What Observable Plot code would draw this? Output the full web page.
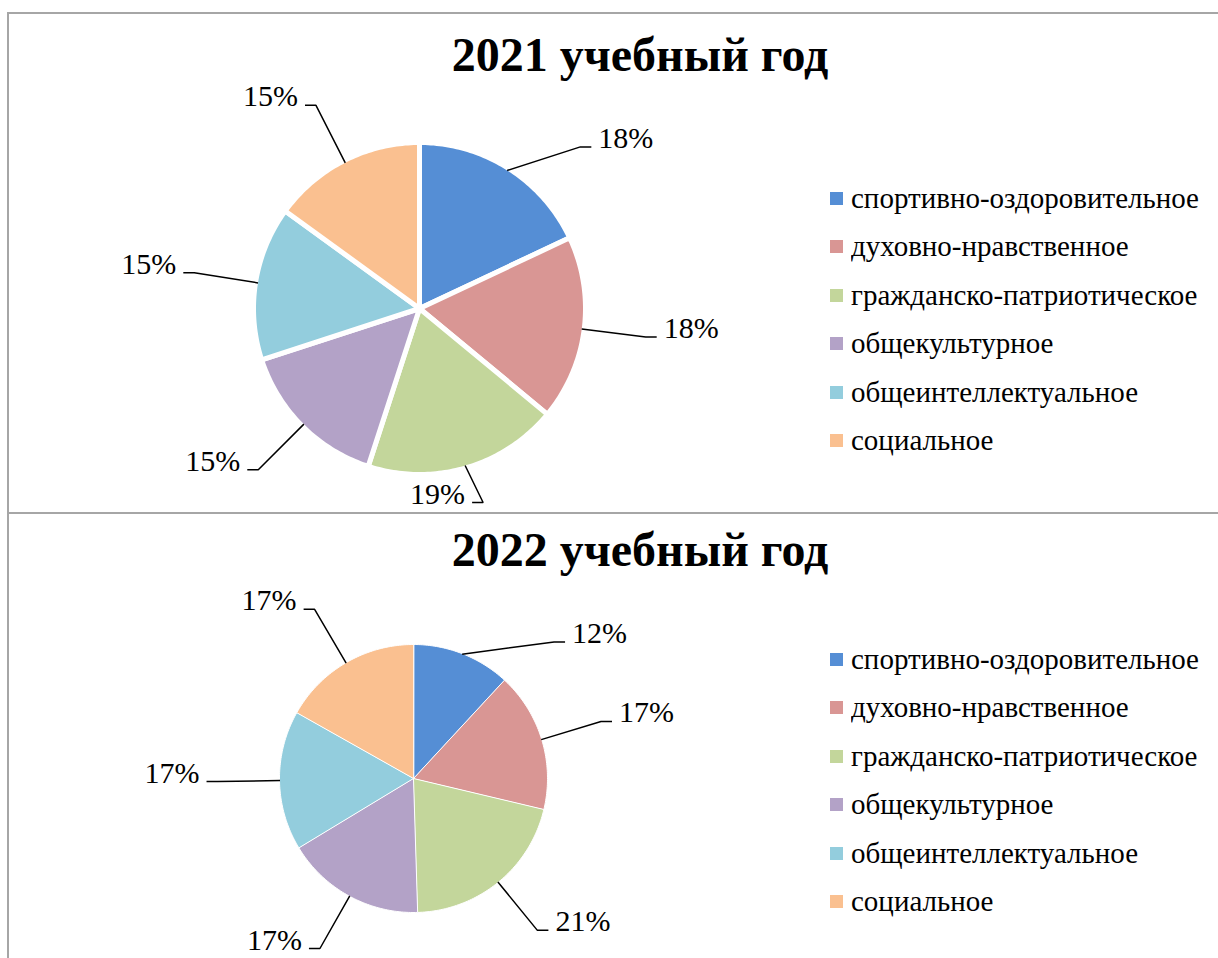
<!DOCTYPE html>
<html><head><meta charset="utf-8">
<script src="https://cdn.jsdelivr.net/npm/d3@7"></script>
<script src="https://cdn.jsdelivr.net/npm/@observablehq/plot@0.6"></script>
<style>
html,body{margin:0;padding:0;background:#fff;overflow:hidden;width:1218px;height:958px;}
#root{position:relative;width:1218px;height:958px;overflow:hidden;}
.chart{position:absolute;left:0;z-index:1;}
.frame{position:absolute;box-sizing:border-box;border:0 solid #a6a6a6;z-index:4;pointer-events:none;}
.title{position:absolute;left:0;width:1280px;text-align:center;font-family:"Times New Roman","Liberation Serif",serif;font-weight:bold;font-size:48px;line-height:48px;color:#000;z-index:3;}
.legendbox{position:absolute;left:830px;width:390px;z-index:3;font-family:"Times New Roman","Liberation Serif",serif;font-size:29px;color:#000;}
.legendbox .lg-swatches, .legendbox .lg-swatch, .legendbox .lg-swatch-label{font-family:"Times New Roman","Liberation Serif",serif !important;font-size:29px !important;color:#000 !important;}
.legendbox .lg-swatches{margin:0 !important;}
.legendbox .lg-swatch{height:48.5px;padding:0 !important;}
.legendbox .lg-swatch > svg{margin-right:8px !important;}
</style>
</head><body><div id="root"></div>
<script>
const categories = ["спортивно-оздоровительное","духовно-нравственное","гражданско-патриотическое","общекультурное","общеинтеллектуальное","социальное"];
const values2021 = [18, 18, 19, 15, 15, 15];
const values2022 = [12, 17, 21, 17, 17, 17];
const titles = ["2021 учебный год", "2022 учебный год"];
const colors = ["#558ed5","#d99694","#c3d69b","#b3a2c7","#93cddd","#fac090"];
const serif = "Times New Roman, Liberation Serif, serif";
const labelSize = 30;

const root = document.getElementById("root");

function drawPie(values, o) {
  const {cx, cy, R, gap, width, height, titleBox} = o;
  const total = d3.sum(values);
  const arcs = d3.pie().sort(null).value(d => d)(values);
  const wedges = [], leaders = [], labels = [];
  const toU = (px, py) => ({x: (px - cx) / R, y: (cy - py) / R});
  const tick = 11, pad = 7, textW = labelSize * 1.83, capH = labelSize * 0.68;
  arcs.forEach((a, i) => {
    const cat = categories[i];
    const n = Math.max(2, Math.ceil((a.endAngle - a.startAngle) / (Math.PI / 180)));
    wedges.push({cat, x: 0, y: 0});
    for (let k = 0; k <= n; k++) {
      const t = a.startAngle + (a.endAngle - a.startAngle) * k / n;
      wedges.push({cat, x: Math.sin(t), y: Math.cos(t)});
    }
    const m = (a.startAngle + a.endAngle) / 2;
    const s = Math.sin(m), c = Math.cos(m);
    const re = R - gap / 2, rl = R + 62;
    const side = s >= 0.3 ? 1 : -1;
    let ex = cx + rl * s;
    let ey = cy - rl * c;
    // keep the label clear of the title: swing it round the pie if it would sit under the title
    const tx0 = ex + side * tick;
    const x0 = side > 0 ? tx0 + pad : tx0 - pad - textW, x1 = x0 + textW;
    const minY = titleBox.bottom + 45 + capH;
    if (c > 0 && x1 > titleBox.left && x0 < titleBox.right && ey < minY) {
      const th = Math.acos(Math.min(1, (cy - minY) / rl));
      ex = cx + (s >= 0 ? 1 : -1) * rl * Math.sin(th);
      ey = minY;
    }
    ey = Math.min(ey, height - 10);
    const tx = ex + side * tick;
    leaders.push({cat, ...toU(cx + re * s, cy - re * c)}, {cat, ...toU(ex, ey)}, {cat, ...toU(tx, ey)});
    labels.push({cat, side, text: d3.format(".0%")(values[i] / total), ...toU(tx, ey)});
  });
  const txt = {x: "x", y: "y", text: "text", lineAnchor: "bottom", dy: 1, fontSize: labelSize, fontFamily: serif, fill: "black"};
  return Plot.plot({
    width, height, margin: 0,
    style: {background: "transparent", overflow: "visible"},
    x: {type: "linear", domain: [-1, 1], range: [cx - R, cx + R], axis: null},
    y: {type: "linear", domain: [-1, 1], range: [cy + R, cy - R], axis: null},
    color: {domain: categories, range: colors},
    marks: [
      Plot.line(wedges, {x: "x", y: "y", z: "cat", fill: "cat", stroke: "white", strokeWidth: gap, curve: "linear-closed", strokeLinejoin: "round"}),
      Plot.line(leaders, {x: "x", y: "y", z: "cat", stroke: "black", strokeWidth: 1.5, strokeLinejoin: "miter", strokeLinecap: "butt"}),
      Plot.text(labels.filter(d => d.side > 0), {...txt, textAnchor: "start", dx: pad}),
      Plot.text(labels.filter(d => d.side < 0), {...txt, textAnchor: "end", dx: -pad})
    ]
  });
}

function addPanel(values, title, top, height, pie, titleTop, legendTop) {
  const t = document.createElement("div");
  t.className = "title";
  t.style.top = (top + titleTop) + "px";
  const span = document.createElement("span");
  span.textContent = title;
  t.appendChild(span);
  root.appendChild(t);
  const r = span.getBoundingClientRect();
  const rootR = root.getBoundingClientRect();
  const titleBox = {left: r.left - rootR.left, right: r.right - rootR.left, bottom: r.bottom - rootR.top - top};

  const wrap = document.createElement("div");
  wrap.className = "chart";
  wrap.style.top = top + "px";
  wrap.appendChild(drawPie(values, {...pie, width: 1218, height, titleBox}));
  root.appendChild(wrap);

  const lgBox = document.createElement("div");
  lgBox.className = "legendbox";
  lgBox.style.top = (top + legendTop) + "px";
  lgBox.appendChild(Plot.legend({
    color: {type: "ordinal", domain: categories, range: colors},
    legend: "swatches", columns: 1, swatchSize: 13, className: "lg",
    style: {fontFamily: serif, fontSize: "29px", color: "#000"}
  }));
  root.appendChild(lgBox);
}

addPanel(values2021, titles[0], 0, 512, {cx: 419, cy: 308, R: 166, gap: 5}, 31, 174);
addPanel(values2022, titles[1], 512, 446, {cx: 413, cy: 266, R: 134, gap: 1}, 14, 123);

const f1 = document.createElement("div");
f1.className = "frame";
Object.assign(f1.style, {left: "7px", top: "12px", width: "1240px", height: "502px", borderWidth: "2px"});
root.appendChild(f1);
const f2 = document.createElement("div");
f2.className = "frame";
Object.assign(f2.style, {left: "7px", top: "512px", width: "1240px", height: "460px", borderLeftWidth: "2px"});
root.appendChild(f2);
</script>
</body></html>
